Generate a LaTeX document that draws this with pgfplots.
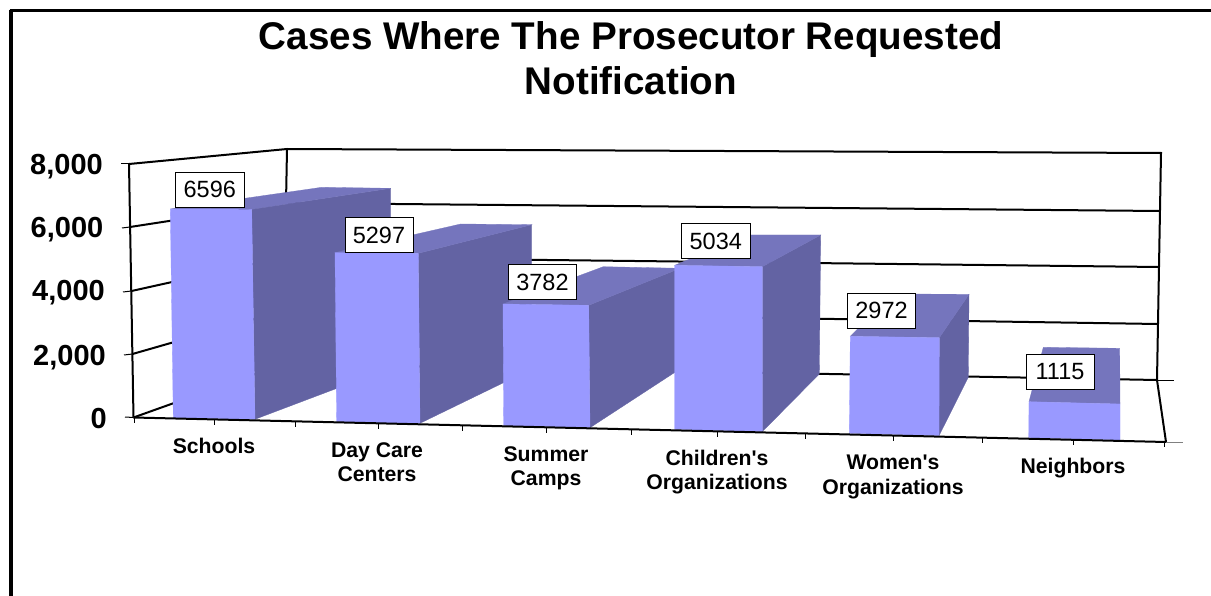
\documentclass[border=0pt]{standalone}
\usepackage{pgfplots}
\pgfplotsset{compat=1.18}
\usepackage{fontspec}
\setmainfont{Liberation Sans}
\definecolor{barfront}{HTML}{9999FF}
\definecolor{bartop}{HTML}{7575BD}
\definecolor{barside}{HTML}{6363A3}
\pgfplotsset{
  frontf/.style={fill=barfront,draw=barfront,line width=0.3pt},
  topf/.style={fill=bartop,draw=bartop,line width=0.3pt},
  sidef/.style={fill=barside,draw=barside,line width=0.3pt},
  wall/.style={black,line width=2pt,forget plot},
  tick/.style={black,line width=1pt,forget plot},
}
\begin{document}
\begin{tikzpicture}
\begin{axis}[
  scale only axis,width=1211pt,height=596pt,
  xmin=0,xmax=1211,ymin=0,ymax=596,y dir=reverse,
  axis line style={draw=none},ticks=none,clip=true,
  every axis plot/.append style={mark=none},
]
% page frame
\addplot[black,line width=4pt] coordinates {(11.3,596)(11.3,10.5)};
\addplot[black,line width=2.4pt] coordinates {(9.5,10.5)(1211,10.5)};
% walls and floor
\addplot[wall] coordinates {(133.5,417.5)(129,164)(287,149)(1161,153)(1157,380)(1166,442)};
\addplot[wall] coordinates {(287,149)(283,364)(1157,380)};
\addplot[wall] coordinates {(133.5,417.5)(283,364)};
\addplot[wall] coordinates {(130,227)(286,203)(1160,211)};
\addplot[wall] coordinates {(131.5,291)(285,257)(1159,267)};
\addplot[wall] coordinates {(132.5,354)(284,310.5)(1158,324)};
% value axis ticks
\addplot[tick] coordinates {(121,164)(129,164)};
\addplot[tick] coordinates {(122,228)(130,227)};
\addplot[tick] coordinates {(123,292)(131.5,291)};
\addplot[tick] coordinates {(124,355)(132.5,354)};
\addplot[tick] coordinates {(125,417)(133.5,417.5)};
\addplot[tick] coordinates {(1157,380)(1174,380)};
\addplot[tick,gray] coordinates {(1166,442)(1183,442)};
% Schools 6596
\addplot[sidef] coordinates {(251.7,209.3)(390.7,188.3)(390.7,368)(255,419.3)} --cycle;
\addplot[topf] coordinates {(170.3,209)(321.7,187.3)(390.7,188.3)(251.7,209.3)} --cycle;
\addplot[frontf] coordinates {(170.3,209)(251.7,209.3)(255,419.3)(173.3,418)} --cycle;
% Day Care Centers 5297
\addplot[sidef] coordinates {(418.3,253.3)(531.7,224.7)(531.7,369)(420,423.3)} --cycle;
\addplot[topf] coordinates {(335,252.7)(460.7,224)(531.7,224.7)(418.3,253.3)} --cycle;
\addplot[frontf] coordinates {(335,252.7)(418.3,253.3)(420,423.3)(336.7,422.7)} --cycle;
% Summer Camps 3782
\addplot[sidef] coordinates {(588.7,305.3)(680,268.3)(680,369)(590,427.7)} --cycle;
\addplot[topf] coordinates {(503,304)(603.3,266.7)(680,268.3)(588.7,305.3)} --cycle;
\addplot[frontf] coordinates {(503,304)(588.7,305.3)(590,427.7)(503.7,425.7)} --cycle;
% Children's Organizations 5034
\addplot[sidef] coordinates {(762.3,266.7)(820.7,235)(819.3,374)(762.3,431.7)} --cycle;
\addplot[topf] coordinates {(674.7,265.3)(747,235)(820.7,235)(762.3,266.7)} --cycle;
\addplot[frontf] coordinates {(674.7,265.3)(762.3,266.7)(762.3,431.7)(674.7,429.3)} --cycle;
% Women's Organizations 2972
\addplot[sidef] coordinates {(939.3,337.7)(969,294.3)(968.3,377.3)(939,435.7)} --cycle;
\addplot[topf] coordinates {(850.3,336.3)(893,294)(969,294.3)(939.3,337.7)} --cycle;
\addplot[frontf] coordinates {(850.3,336.3)(939.3,337.7)(939,435.7)(849.3,433.3)} --cycle;
% Neighbors 1115
\addplot[topf] coordinates {(1029,401.7)(1043.3,347.3)(1119.7,348.3)(1120,404)} --cycle;
\addplot[frontf] coordinates {(1029,401.7)(1120,404)(1120,440)(1028.7,437.7)} --cycle;
% front edge and its ticks
\addplot[wall] coordinates {(133.5,417.5)(1166,442)};
\addplot[tick] coordinates {(134,418)(134,423)};
\addplot[tick] coordinates {(214,420)(214,424.5)};
\addplot[tick] coordinates {(295,422)(295,426.5)};
\addplot[tick] coordinates {(378,424)(378,428.5)};
\addplot[tick] coordinates {(462,426)(462,430.5)};
\addplot[tick] coordinates {(546,428)(546,432.5)};
\addplot[tick] coordinates {(631,430)(631,434.5)};
\addplot[tick] coordinates {(717,432)(717,436.5)};
\addplot[tick] coordinates {(805,434)(805,438.5)};
\addplot[tick] coordinates {(893,436)(893,440.5)};
\addplot[tick] coordinates {(982,438)(982,442.5)};
\addplot[tick] coordinates {(1073,440)(1073,444.5)};
\addplot[tick] coordinates {(1164,442)(1164,447)};
% data labels
\addplot[only marks,mark=none,draw=none,
  nodes near coords,point meta=explicit symbolic,
  nodes near coords style={draw=black,line width=0.7pt,fill=white,anchor=center,
    font=\fontsize{23.5}{23.5}\selectfont,text=black,
    minimum width=68.3pt,minimum height=35pt,inner sep=0pt}]
  table[meta=label,row sep=\\]{
  x y label\\
  209.8 189.7 6596\\
  379 235 5297\\
  542.5 282 3782\\
  715.8 241 5034\\
  881.5 310.5 2972\\
  1060 371.7 1115\\
};
% title
\node[anchor=base,font=\fontsize{38.6}{38.6}\selectfont\bfseries] at (axis cs:631,50) {Cases Where The Prosecutor Requested};
\node[anchor=base,font=\fontsize{38.6}{38.6}\selectfont\bfseries] at (axis cs:631,95) {Notification};
% value labels
\tikzset{vl/.style={anchor=base east,inner sep=0pt,font=\fontsize{29}{29}\selectfont\bfseries}}
\node[vl] at (axis cs:103,175) {8,000};
\node[vl] at (axis cs:103.5,238) {6,000};
\node[vl] at (axis cs:105,301) {4,000};
\node[vl] at (axis cs:106,365) {2,000};
\node[vl] at (axis cs:107,428) {0};
% category labels
\tikzset{cl/.style={anchor=base,inner sep=0pt,font=\fontsize{21.2}{21.2}\selectfont\bfseries}}
\node[cl] at (axis cs:214,453) {Schools};
\node[cl] at (axis cs:377,457) {Day Care};
\node[cl] at (axis cs:377,481) {Centers};
\node[cl] at (axis cs:546,461) {Summer};
\node[cl] at (axis cs:546,485) {Camps};
\node[cl] at (axis cs:717,465) {Children\textquotesingle s};
\node[cl] at (axis cs:717,489) {Organizations};
\node[cl] at (axis cs:893,469) {Women\textquotesingle s};
\node[cl] at (axis cs:893,494) {Organizations};
\node[cl] at (axis cs:1073,473) {Neighbors};
\end{axis}
\end{tikzpicture}
\end{document}
